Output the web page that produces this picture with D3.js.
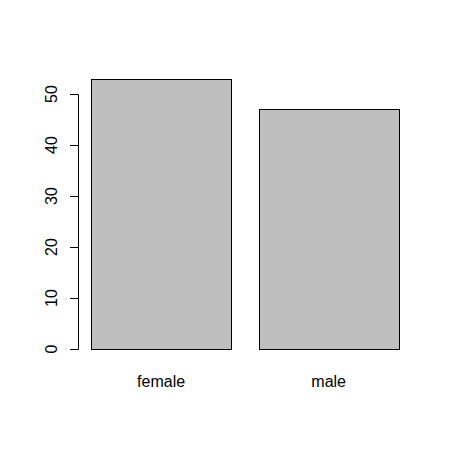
<!DOCTYPE html>
<html><head><meta charset="utf-8">
<script src="https://cdn.jsdelivr.net/npm/d3@7"></script>
<style>body{margin:0;background:#fff}text{font-family:Arial,"Liberation Sans",sans-serif;fill:#000}</style>
</head><body>
<script>
const categories = ["female", "male"];
const counts = [53, 47];
const yTicks = [0, 10, 20, 30, 40, 50];

const W = 451, H = 450;
const svg = d3.select("body").append("svg").attr("width", W).attr("height", H);

// R barplot units: width 1, space 0.2
const x = d3.scaleLinear().domain([0.2, 2.4]).range([91.3, 398.5]);
const y = d3.scaleLinear().domain([0, 50]).range([349, 94]);

const bars = categories.map((c, i) => ({c, v: counts[i], l: 0.2 + i * 1.2, r: 1.2 + i * 1.2}));

svg.selectAll("rect.bar").data(bars).enter().append("rect")
  .attr("x", d => Math.round(x(d.l)) + 0.5)
  .attr("y", d => Math.round(y(d.v)) + 0.5)
  .attr("width", d => Math.round(x(d.r)) - Math.round(x(d.l)))
  .attr("height", d => Math.round(y(0)) - Math.round(y(d.v)))
  .attr("fill", "#BEBEBE").attr("stroke", "#000").attr("stroke-width", 1);

// Y axis
const axisX = 78.5;
const ax = svg.append("g");
ax.append("line").attr("x1", axisX).attr("x2", axisX)
  .attr("y1", Math.round(y(0)) + 0.5).attr("y2", Math.round(y(50)) + 0.5)
  .attr("stroke", "#000");
ax.selectAll("line.tick").data(yTicks).enter().append("line")
  .attr("x1", 70).attr("x2", axisX)
  .attr("y1", d => Math.round(y(d)) + 0.5).attr("y2", d => Math.round(y(d)) + 0.5)
  .attr("stroke", "#000");
ax.selectAll("text").data(yTicks).enter().append("text")
  .attr("transform", d => `translate(56.7,${y(d)}) rotate(-90)`)
  .attr("text-anchor", "middle").attr("font-size", 16)
  .text(d => d);

// Category labels
svg.selectAll("text.cat").data(bars).enter().append("text")
  .attr("x", d => x((d.l + d.r) / 2)).attr("y", 387.3)
  .attr("text-anchor", "middle").attr("font-size", 16)
  .text(d => d.c);
</script>
</body></html>
